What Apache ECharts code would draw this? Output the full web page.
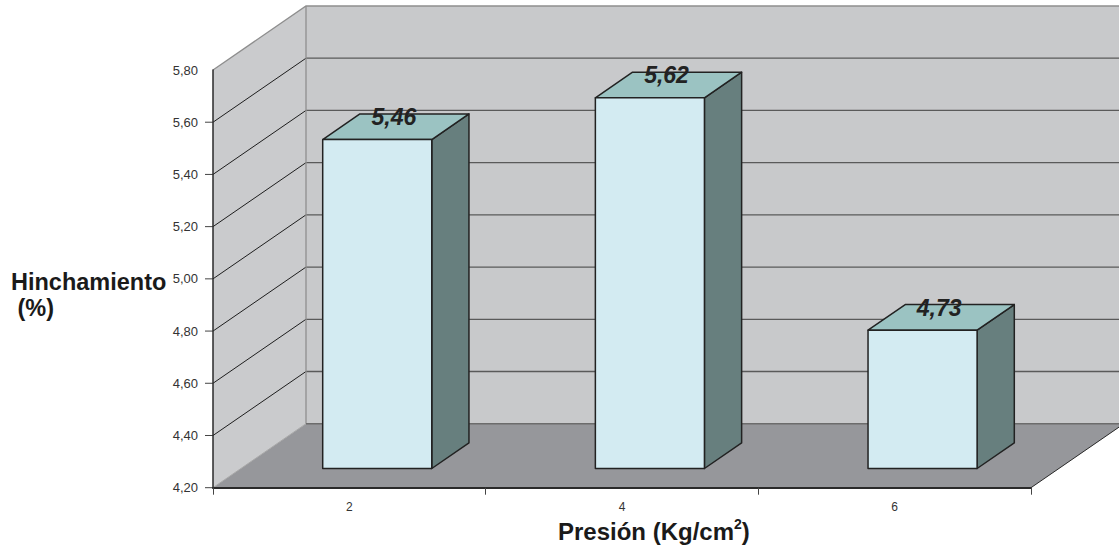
<!DOCTYPE html>
<html>
<head>
<meta charset="utf-8">
<script src="https://cdn.jsdelivr.net/npm/echarts@6/dist/echarts.min.js"></script>
<style>
  html, body { margin: 0; padding: 0; background: #ffffff; }
  #chart { width: 1119px; height: 548px; }
</style>
</head>
<body>
<div id="chart"></div>
<script>
// Pressure categories (Kg/cm²) and measured swelling (%)
const categories = ['2', '4', '6'];
const swelling = [5.46, 5.62, 4.73];
const yTicks = [4.2, 4.4, 4.6, 4.8, 5.0, 5.2, 5.4, 5.6, 5.8];
const yMin = 4.2;
const yMax = 5.8;
const yStep = 0.2;

// Pseudo-3D projection: offset of the back plane relative to the front plane
const DX = 93;
const DY = -64;
const BAR_FRONT = 0.3;   // bar front face depth (fraction of full depth)
const BAR_BACK = 0.7;    // bar back face depth
const BAR_WIDTH = 0.4;   // bar width as a fraction of the category band
const Y_TICK_LEN = 8;

const FONT = '"Liberation Sans", Arial, Helvetica, sans-serif';
const fmt = v => v.toFixed(2).replace('.', ',');
const P = (x, y, z) => [x + DX * z, y + DY * z];

// Side wall, back wall, floor, their gridlines and the value-axis ticks
function renderWalls(params, api) {
  const cs = params.coordSys;
  const x0 = cs.x;
  const x1 = cs.x + cs.width;
  const yTop = api.coord([0, yMax])[1];
  const yBot = api.coord([0, yMin])[1];
  const kids = [];
  // back wall
  kids.push({ type: 'polygon', shape: { points: [P(x0, yTop, 1), P(x1, yTop, 1), P(x1, yBot, 1), P(x0, yBot, 1)] },
    style: { fill: '#c8c9cb' } });
  // side wall
  kids.push({ type: 'polygon', shape: { points: [[x0, yTop], P(x0, yTop, 1), P(x0, yBot, 1), [x0, yBot]] },
    style: { fill: '#cacbcd' } });
  // floor
  kids.push({ type: 'polygon', shape: { points: [[x0, yBot], [x1, yBot], P(x1, yBot, 1), P(x0, yBot, 1)] },
    style: { fill: '#96979b' } });
  yTicks.forEach(v => {
    const y = api.coord([0, v])[1];
    // tick marks (none on the top value)
    if (v < yMax) {
      kids.push({ type: 'line', shape: { x1: x0 - Y_TICK_LEN, y1: y, x2: x0, y2: y },
        style: { stroke: '#444444', lineWidth: 1 } });
    }
    if (v <= yMin || v >= yMax) return;
    // gridline across the side wall and along the back wall
    kids.push({ type: 'line', shape: { x1: x0, y1: y, x2: x0 + DX, y2: y + DY },
      style: { stroke: '#1e1e1e', lineWidth: 1 } });
    kids.push({ type: 'line', shape: { x1: x0 + DX, y1: y + DY, x2: x1 + DX, y2: y + DY },
      style: { stroke: '#5a5a5a', lineWidth: 1.3 } });
  });
  // wall edges
  kids.push({ type: 'polyline', shape: { points: [[x0, yTop], P(x0, yTop, 1), P(x1, yTop, 1)] },
    style: { stroke: '#8e8e8e', lineWidth: 1.3, fill: null } });
  kids.push({ type: 'line', shape: { x1: x0 + DX, y1: yTop + DY, x2: x0 + DX, y2: yBot + DY },
    style: { stroke: '#8e8e8e', lineWidth: 1.3 } });
  kids.push({ type: 'line', shape: { x1: x0 + DX, y1: yBot + DY, x2: x1 + DX, y2: yBot + DY },
    style: { stroke: '#6c6c6c', lineWidth: 1.5 } });
  kids.push({ type: 'line', shape: { x1: x0, y1: yBot, x2: x0 + DX, y2: yBot + DY },
    style: { stroke: '#a8a8a8', lineWidth: 1 } });
  kids.push({ type: 'line', shape: { x1: x1, y1: yBot, x2: x1 + DX, y2: yBot + DY },
    style: { stroke: '#2a2a2a', lineWidth: 1 } });
  return { type: 'group', children: kids };
}

// 3D box for each bar with its value label on top
function renderBar(params, api) {
  const idx = api.value(0);
  const v = api.value(1);
  const top = api.coord([idx, v]);
  const base = api.coord([idx, yMin]);
  const w = api.size([1, 0])[0] * BAR_WIDTH;
  const L = top[0] - w / 2, R = top[0] + w / 2, T = top[1], B = base[1];
  const f = BAR_FRONT, b = BAR_BACK;
  const edge = { stroke: '#222222', lineWidth: 1.5, lineJoin: 'round' };
  const lp = P(top[0], T, 0.5);
  return {
    type: 'group',
    children: [
      { type: 'polygon', shape: { points: [P(R, T, f), P(R, T, b), P(R, B, b), P(R, B, f)] },
        style: Object.assign({ fill: '#677f7e' }, edge) },
      { type: 'polygon', shape: { points: [P(L, T, f), P(R, T, f), P(R, T, b), P(L, T, b)] },
        style: Object.assign({ fill: '#9bc3c2' }, edge) },
      { type: 'polygon', shape: { points: [P(L, T, f), P(R, T, f), P(R, B, f), P(L, B, f)] },
        style: Object.assign({ fill: '#d3ebf2' }, edge) },
      { type: 'text', x: lp[0] - 2, y: lp[1] + 2,
        style: { text: fmt(v), font: 'italic bold 23px ' + FONT, fill: '#222222',
          align: 'center', verticalAlign: 'bottom' } }
    ]
  };
}

const chart = echarts.init(document.getElementById('chart'), null, { renderer: 'svg' });
chart.setOption({
  animation: false,
  backgroundColor: '#ffffff',
  title: [
    {
      text: 'Hinchamiento\n (%)',
      left: 11, top: 269, padding: 0,
      textStyle: { fontFamily: FONT, fontWeight: 'bold', fontSize: 23.5, lineHeight: 26, color: '#1a1a1a' }
    },
    {
      text: 'Presión (Kg/cm{sup|2})',
      left: 558, top: 517, padding: 0,
      textStyle: {
        fontFamily: FONT, fontWeight: 'bold', fontSize: 24, lineHeight: 28, color: '#1a1a1a',
        rich: { sup: { fontFamily: FONT, fontWeight: 'bold', fontSize: 14, lineHeight: 28,
          verticalAlign: 'top', color: '#1a1a1a' } }
      }
    }
  ],
  grid: { left: 213, top: 70, right: 88, bottom: 60.3, containLabel: false },
  xAxis: {
    type: 'category', data: categories, z: 3,
    axisLine: { show: true, lineStyle: { color: '#2a2a2a', width: 2 } },
    axisTick: { show: true, length: 7, lineStyle: { color: '#444', width: 1 } },
    axisLabel: { fontFamily: FONT, fontSize: 12, color: '#333', margin: 13 },
    splitLine: { show: false }
  },
  yAxis: {
    type: 'value', min: yMin, max: yMax, interval: yStep, z: 3,
    axisLine: { show: true, lineStyle: { color: '#2a2a2a', width: 1.5 } },
    axisTick: { show: false },
    axisLabel: { fontFamily: FONT, fontSize: 13, color: '#333', margin: 15, formatter: v => fmt(v) },
    splitLine: { show: false }
  },
  series: [
    { type: 'custom', name: 'walls', z: 1, silent: true, data: [[0, yMin]], renderItem: renderWalls },
    { type: 'custom', name: 'Hinchamiento', z: 5, data: swelling.map((v, i) => [i, v]), renderItem: renderBar }
  ]
});
</script>
</body>
</html>
